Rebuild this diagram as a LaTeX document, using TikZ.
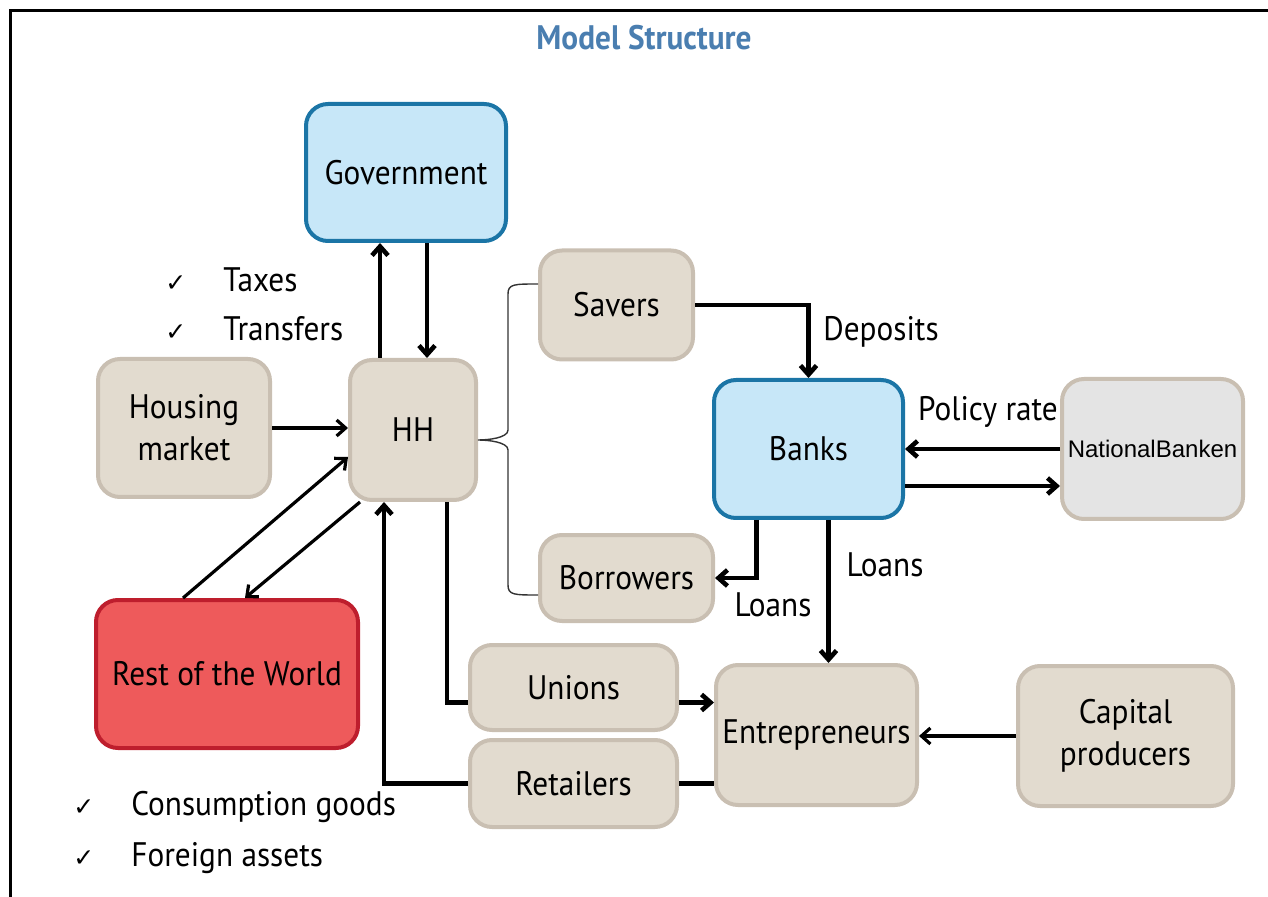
\documentclass[tikz,border=0pt]{standalone}
\usepackage{fontspec}
\setmainfont{PT Sans}[FakeStretch=0.92]
\newfontfamily\nbfont{Liberation Sans}
\newfontfamily\symfont{DejaVu Sans}
\usepackage{xcolor}
\usepackage{tikz}
\usetikzlibrary{arrows.meta,positioning}
\definecolor{sandfill}{RGB}{226,219,207}
\definecolor{sandline}{RGB}{201,191,178}
\definecolor{skyfill}{RGB}{199,231,248}
\definecolor{seablue}{RGB}{27,117,166}
\definecolor{coral}{RGB}{238,90,91}
\definecolor{brickred}{RGB}{190,30,45}
\definecolor{fogfill}{RGB}{228,228,228}
\definecolor{titleblue}{RGB}{74,126,176}
\newcommand{\chk}{\makebox[29pt][l]{\symfont\fontsize{12.5}{14}\selectfont ✓}}

\begin{document}
\begin{tikzpicture}[x=0.5pt,y=-0.5pt,font=\fontsize{17}{21}\selectfont,
    agent/.style={draw=sandline,fill=sandfill,line width=2pt,rounded corners=11pt,
                  align=center,inner sep=0pt},
    bank/.style={agent,draw=seablue,fill=skyfill},
    world/.style={agent,draw=brickred,fill=coral},
    arr/.style={-{Straight Barb[length=4.5pt,width=8pt]},line width=2.3pt},
    tarr/.style={-{Straight Barb[length=4.5pt,width=8pt]},line width=1.6pt},
    link/.style={line width=2.3pt},
    brace/.style={draw=black!80,line width=0.7pt},
    lbl/.style={inner sep=0pt},
    lst/.style={inner sep=0pt,anchor=west}]
  \useasboundingbox (0,0) rectangle (1268,897);
  \draw[line width=1.5pt] (10,897) -- (10,11) -- (1268,11);
  \node[font=\fontsize{17}{20}\selectfont\bfseries,text=titleblue] (ttl) at (644,38) {Model Structure};
  % agents
  \node[bank,minimum width=100pt,minimum height=68.5pt] (gov) at (406,172.5) {Government};
  \node[agent,minimum width=63pt,minimum height=70pt] (hh) at (413,430) {HH};
  \node[agent,minimum width=86pt,minimum height=69pt] (housing) at (184,428) {Housing\\market};
  \node[agent,minimum width=76.5pt,minimum height=54.5pt] (savers) at (616.5,305) {Savers};
  \node[agent,minimum width=86.5pt,minimum height=43pt] (borrowers) at (626.5,578) {Borrowers};
  \node[bank,minimum width=94.5pt,minimum height=69pt] (banks) at (808.5,449) {Banks};
  \node[agent,fill=fogfill,minimum width=90.5pt,minimum height=70pt,font=\nbfont\fontsize{12}{14}\selectfont]
       (natbank) at (1152.5,449) {NationalBanken};
  \node[world,minimum width=131pt,minimum height=74pt] (row) at (227,674) {Rest of the World};
  \node[agent,minimum width=103.5pt,minimum height=42.5pt] (unions) at (573.5,687.5) {Unions};
  \node[agent,minimum width=103.5pt,minimum height=43.5pt] (retailers) at (573.5,783.5) {Retailers};
  \node[agent,minimum width=100.5pt,minimum height=70pt] (entre) at (816.5,735) {Entrepreneurs};
  \node[agent,minimum width=107.5pt,minimum height=70pt] (capital) at (1125.5,736) {Capital\\producers};
  % labels
  \node[lst] (taxes) at (165,280) {\chk Taxes};
  \node[lst] (transfers) at (165,329) {\chk Transfers};
  \node[lst] (goods) at (73,807) {\chk Consumption goods};
  \node[lst] (assets) at (73,858) {\chk Foreign assets};
  \node[lbl] (deposits) at (881,332) {Deposits};
  \node[lbl] (policy) at (988,412) {Policy rate};
  \node[lbl] (loansa) at (885,565) {Loans};
  \node[lbl] (loansb) at (773,605) {Loans};
  % flows
  \draw[arr] ([xshift=-16.5pt]hh.north) -- ([xshift=-16.5pt]hh.north |- gov.south);
  \draw[arr] ([xshift=7pt]hh.north |- gov.south) -- ([xshift=7pt]hh.north);
  \draw[tarr] (housing.east) -- (housing.east -| hh.west);
  \draw[tarr] ([xshift=-22pt]row.north) -- ([yshift=-13.5pt]hh.west);
  \draw[tarr] ([xshift=6pt]hh.south west) -- ([xshift=9pt]row.north);
  \draw[arr] (retailers.west) -| ([xshift=-14.5pt]hh.south);
  \draw[link] ([xshift=17pt]hh.south) |- ([yshift=-7.5pt]unions.west);
  \draw[arr] ([yshift=-7.5pt]unions.east) -- ([yshift=-7.5pt]unions.east -| entre.west);
  \draw[link] (retailers.east) -- (retailers.east -| entre.west);
  \draw[arr] (savers.east) -| (banks.north);
  \draw[arr] ([xshift=-26pt]banks.south) |- (borrowers.east);
  \draw[arr] ([xshift=10pt]banks.south) -- ([xshift=10pt]banks.south |- entre.north);
  \draw[arr] (natbank.west) -- (natbank.west -| banks.east);
  \draw[arr] ([yshift=-18.5pt]banks.east) -- ([yshift=-18.5pt]banks.east -| natbank.west);
  \draw[tarr] (capital.west) -- (capital.west -| entre.east);
  \draw[brace] ([yshift=10.5pt]savers.west) .. controls +(-24,0) and +(0,-10) .. ++(-30,10) -- ++(0,136)
       .. controls +(0,8) and +(10,0) .. ++(-30,10) .. controls +(10,0) and +(0,-8) .. ++(30,10)
       -- ++(0,135) .. controls +(0,10) and +(-24,0) .. ++(30,10);
\end{tikzpicture}
\end{document}
